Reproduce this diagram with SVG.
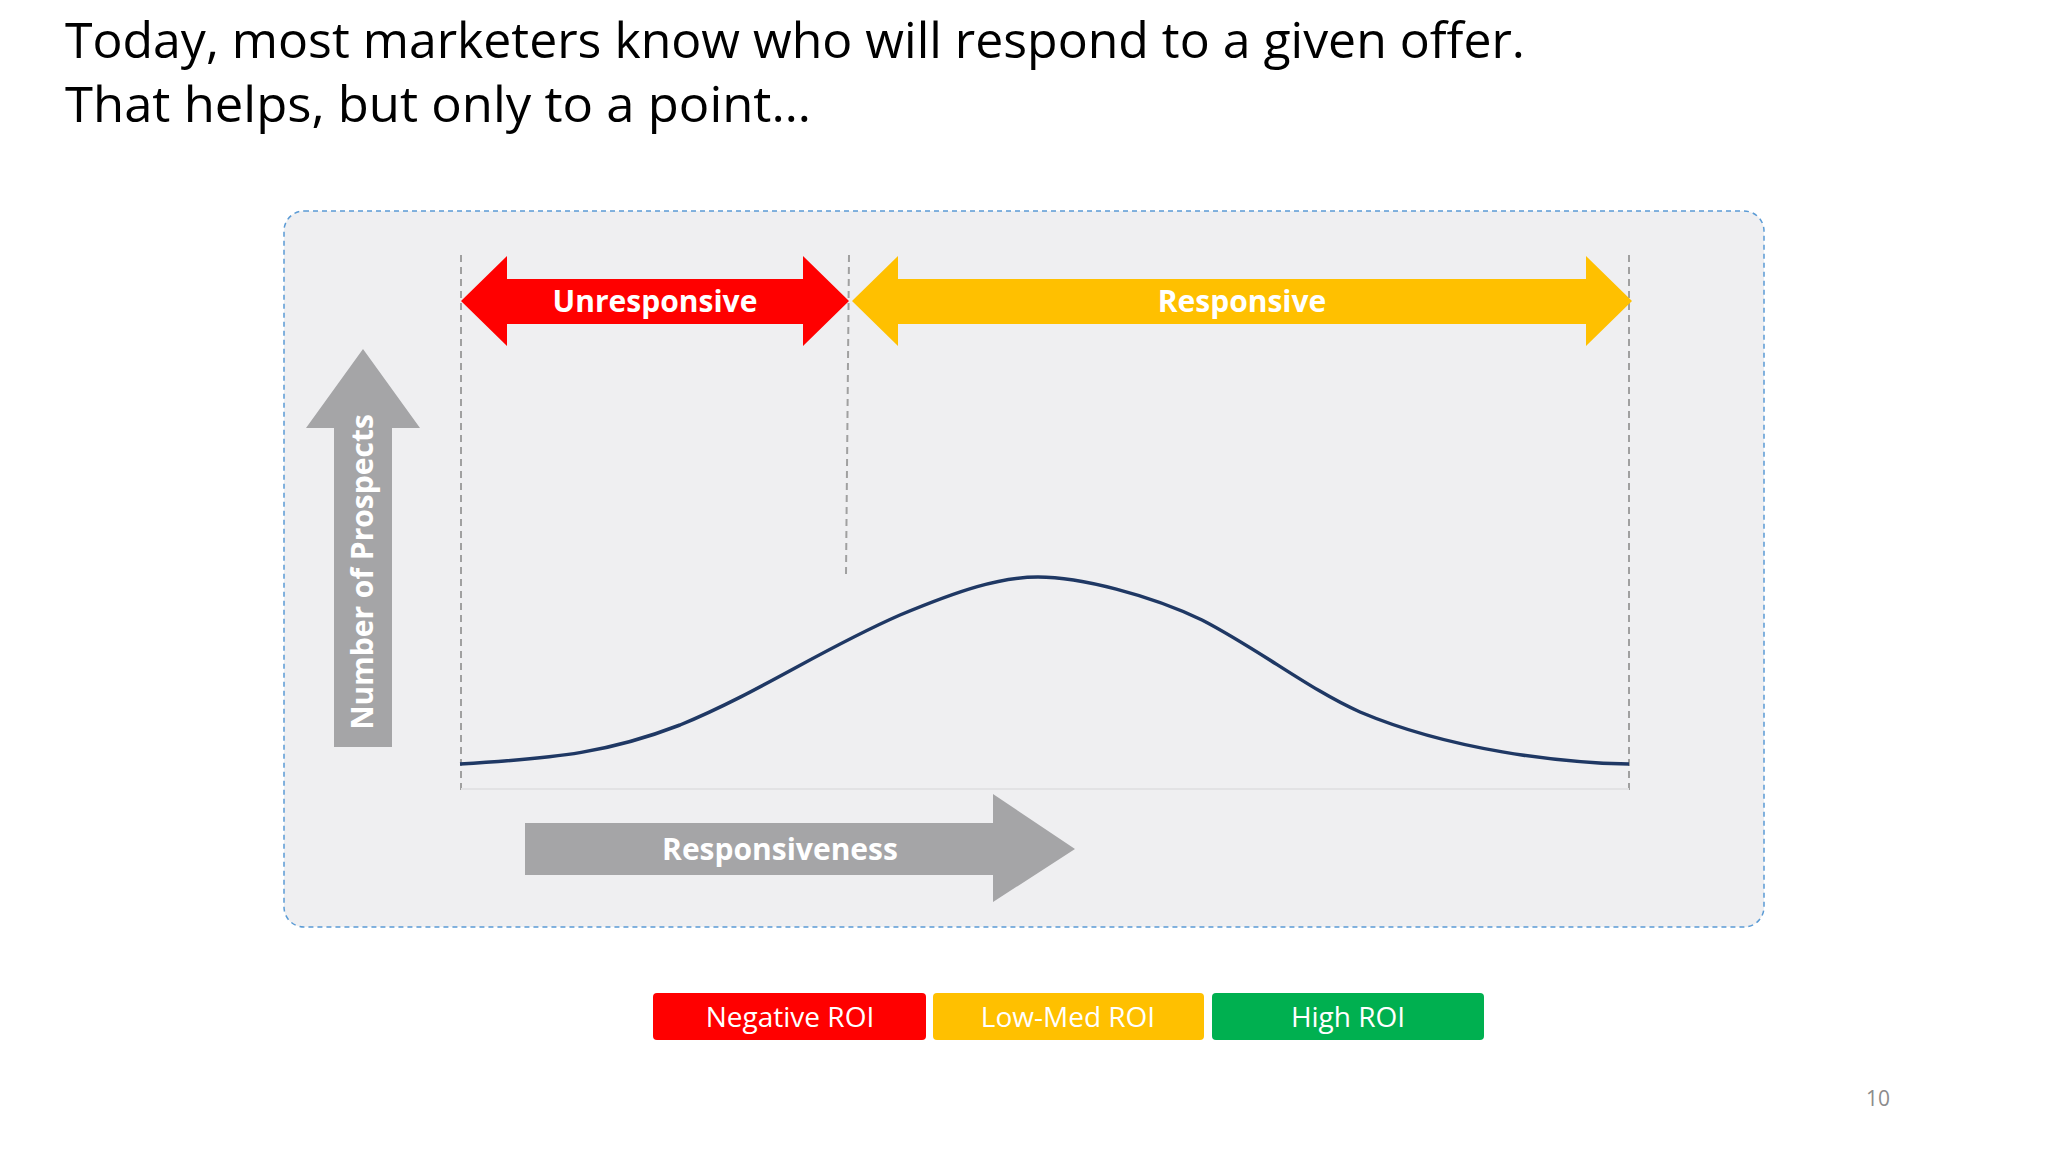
<svg xmlns="http://www.w3.org/2000/svg" width="2048" height="1152" viewBox="0 0 2048 1152">
<style>
.t{font-family:"Open Sans","Liberation Sans",sans-serif;fill:#000;font-size:50px}
.w{font-family:"Open Sans","Liberation Sans",sans-serif;fill:#fff;font-weight:bold;font-size:30px;text-anchor:middle}
.l{font-family:"Open Sans","Liberation Sans",sans-serif;fill:#fff;font-size:28px;text-anchor:middle}
.d{stroke:#a0a0a0;stroke-width:2;stroke-dasharray:7,5;fill:none}
</style>
<rect width="2048" height="1152" fill="#fff"/>
<text class="t" x="65" y="58" textLength="1460" lengthAdjust="spacingAndGlyphs">Today, most marketers know who will respond to a given offer.</text>
<text class="t" x="65" y="122" textLength="746" lengthAdjust="spacingAndGlyphs">That helps, but only to a point…</text>
<g id="panel"><rect x="284" y="211" width="1480" height="716" rx="20" fill="#efeff1" stroke="#5b9bd5" stroke-width="1.5" stroke-dasharray="5,4"/></g>
<g id="connectors">
<line class="d" x1="461" y1="255" x2="461" y2="790"/>
<line class="d" x1="849" y1="255" x2="846" y2="575"/>
<line class="d" x1="1629" y1="255" x2="1629" y2="790"/>
<line x1="461" y1="789" x2="1629" y2="789" stroke="#e2e2e4" stroke-width="2"/>
<path d="M460,764 C560,758 610,752 680,725 C760,692 820,650 900,615 C960,590 1000,577 1038,577 C1080,577 1150,595 1202,620 C1260,650 1310,690 1360,712 C1450,750 1560,763 1629,764" fill="none" stroke="#1f3864" stroke-width="3.5"/>
</g>
<g id="unresponsive"><polygon points="461,301 507,256 507,279 803,279 803,256 849,301 803,346 803,324 507,324 507,346" fill="#ff0000"/><text class="w" x="655" y="312">Unresponsive</text></g>
<g id="responsive"><polygon points="852,301 898,256 898,279 1586,279 1586,256 1632,301 1586,346 1586,324 898,324 898,346" fill="#ffc000"/><text class="w" x="1242" y="312">Responsive</text></g>
<g id="prospects"><polygon points="363,349 420,428 392,428 392,747 334,747 334,428 306,428" fill="#a5a5a7"/><text class="w" transform="translate(373,572) rotate(-90)">Number of Prospects</text></g>
<g id="responsiveness"><polygon points="525,823 993,823 993,794 1075,849 993,902 993,875 525,875" fill="#a5a5a7"/><text class="w" x="780" y="860">Responsiveness</text></g>
<g id="negative"><rect x="653" y="993" width="273" height="47" rx="4" fill="#ff0000"/><text class="l" x="790" y="1027">Negative ROI</text></g>
<g id="lowmed"><rect x="933" y="993" width="271" height="47" rx="4" fill="#ffc000"/><text class="l" x="1068" y="1027">Low-Med ROI</text></g>
<g id="high"><rect x="1212" y="993" width="272" height="47" rx="4" fill="#00b050"/><text class="l" x="1348" y="1027">High ROI</text></g>
<text x="1878" y="1106" font-family="Open Sans, Liberation Sans, sans-serif" font-size="21" fill="#8c8c8c" text-anchor="middle">10</text>
</svg>
